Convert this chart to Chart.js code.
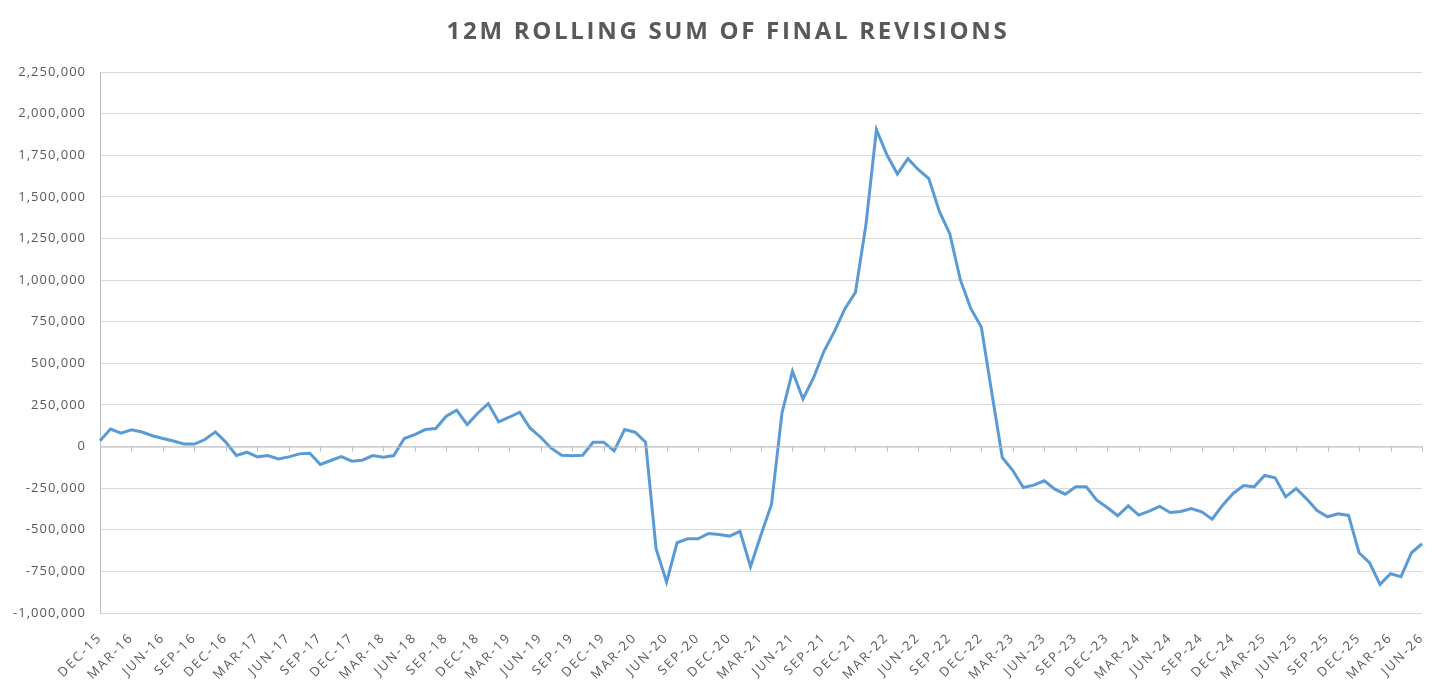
<!DOCTYPE html>
<html>
<head>
<meta charset="utf-8">
<script src="https://cdn.jsdelivr.net/npm/chart.js@4/dist/chart.umd.min.js"></script>
<style>
  html, body { margin: 0; padding: 0; background: #fff; }
  #wrap { position: relative; width: 1456px; height: 692px; }
  #title {
    position: absolute; left: 0; right: 0; top: 13px;
    text-align: center; font: bold 24px "Open Sans", sans-serif;
    letter-spacing: 2.7px; color: #595959;
  }
</style>
</head>
<body>
<div id="wrap">
  <div id="title">12M ROLLING SUM OF FINAL REVISIONS</div>
  <canvas id="line" width="1456" height="692"></canvas>
</div>
<script>
const months = [
  'DEC-15',
  'JAN-16', 'FEB-16', 'MAR-16', 'APR-16', 'MAY-16', 'JUN-16', 'JUL-16', 'AUG-16', 'SEP-16', 'OCT-16', 'NOV-16', 'DEC-16',
  'JAN-17', 'FEB-17', 'MAR-17', 'APR-17', 'MAY-17', 'JUN-17', 'JUL-17', 'AUG-17', 'SEP-17', 'OCT-17', 'NOV-17', 'DEC-17',
  'JAN-18', 'FEB-18', 'MAR-18', 'APR-18', 'MAY-18', 'JUN-18', 'JUL-18', 'AUG-18', 'SEP-18', 'OCT-18', 'NOV-18', 'DEC-18',
  'JAN-19', 'FEB-19', 'MAR-19', 'APR-19', 'MAY-19', 'JUN-19', 'JUL-19', 'AUG-19', 'SEP-19', 'OCT-19', 'NOV-19', 'DEC-19',
  'JAN-20', 'FEB-20', 'MAR-20', 'APR-20', 'MAY-20', 'JUN-20', 'JUL-20', 'AUG-20', 'SEP-20', 'OCT-20', 'NOV-20', 'DEC-20',
  'JAN-21', 'FEB-21', 'MAR-21', 'APR-21', 'MAY-21', 'JUN-21', 'JUL-21', 'AUG-21', 'SEP-21', 'OCT-21', 'NOV-21', 'DEC-21',
  'JAN-22', 'FEB-22', 'MAR-22', 'APR-22', 'MAY-22', 'JUN-22', 'JUL-22', 'AUG-22', 'SEP-22', 'OCT-22', 'NOV-22', 'DEC-22',
  'JAN-23', 'FEB-23', 'MAR-23', 'APR-23', 'MAY-23', 'JUN-23', 'JUL-23', 'AUG-23', 'SEP-23', 'OCT-23', 'NOV-23', 'DEC-23',
  'JAN-24', 'FEB-24', 'MAR-24', 'APR-24', 'MAY-24', 'JUN-24', 'JUL-24', 'AUG-24', 'SEP-24', 'OCT-24', 'NOV-24', 'DEC-24',
  'JAN-25', 'FEB-25', 'MAR-25', 'APR-25', 'MAY-25', 'JUN-25', 'JUL-25', 'AUG-25', 'SEP-25', 'OCT-25', 'NOV-25', 'DEC-25',
  'JAN-26', 'FEB-26', 'MAR-26', 'APR-26', 'MAY-26', 'JUN-26'
];

// 12m rolling sum (one value per month)
const rollingSum = [
  35000,
  105000, 80000, 100000, 87000, 65000, 48000, 33000, 15000, 15000, 42000, 88000, 26000,
  -54000, -34000, -62000, -54000, -74000, -62000, -44000, -40000, -108000, -84000, -60000, -88000,
  -82000, -54000, -64000, -54000, 48000, 72000, 102000, 108000, 182000, 218000, 132000, 200000,
  258000, 148000, 176000, 206000, 110000, 56000, -10000, -52000, -56000, -52000, 26000, 26000,
  -26000, 102000, 86000, 26000, -614000, -814000, -578000, -554000, -554000, -522000, -528000, -538000,
  -510000, -722000, -530000, -348000, 202000, 452000, 286000, 412000, 572000, 692000, 828000, 926000,
  1332000, 1903000, 1753000, 1637000, 1729000, 1663000, 1609000, 1412000, 1277000, 1002000, 828000, 718000,
  322000, -66000, -144000, -246000, -232000, -206000, -256000, -286000, -242000, -242000, -322000, -366000,
  -416000, -356000, -412000, -388000, -360000, -396000, -390000, -372000, -392000, -436000, -352000, -282000,
  -234000, -242000, -174000, -188000, -302000, -252000, -314000, -384000, -422000, -404000, -414000, -638000,
  -698000, -828000, -764000, -782000, -638000, -584000
];

const yMin = -1000000;
const yMax = 2250000;
const yStep = 250000;

const grey = '#595959';

// small tick marks hanging under the zero line, like the excel axis
// x labels sit in a later layer (ticks.z = 1) so they get wider letter spacing
const zeroTicks = {
  id: 'zeroTicks',
  beforeDraw(chart) {
    chart.ctx.letterSpacing = '1px';
  },
  afterDatasetsDraw(chart) {
    const ctx = chart.ctx;
    const x = chart.scales.x;
    const y0 = chart.scales.y.getPixelForValue(0);
    ctx.save();
    ctx.strokeStyle = '#bfbfbf';
    ctx.lineWidth = 1;
    ctx.beginPath();
    ctx.moveTo(x.left, y0 + 0.5);
    ctx.lineTo(x.right, y0 + 0.5);
    for (let i = 0; i < months.length; i += 3) {
      const px = Math.round(x.getPixelForValue(i)) + 0.5;
      ctx.moveTo(px, y0);
      ctx.lineTo(px, y0 + 5);
    }
    ctx.stroke();
    ctx.restore();
    ctx.letterSpacing = '2px';
  },
  afterDraw(chart) {
    chart.ctx.letterSpacing = '0px';
  }
};

const lineConfig = {
  type: 'line',
  data: {
    labels: months,
    datasets: [{
      label: '12M rolling sum',
      data: rollingSum,
      borderColor: '#5B9BD5',
      borderWidth: 3,
      pointRadius: 0,
      tension: 0,
      fill: false
    }]
  },
  options: {
    responsive: false,
    animation: false,
    layout: { padding: { left: 0, right: 34, top: 72, bottom: 0 } },
    plugins: {
      legend: { display: false },
      title: { display: false },
      tooltip: { enabled: false }
    },
    scales: {
      x: {
        grid: { display: false },
        border: { display: false },
        afterFit(scale) { scale.height = 79; },
        ticks: {
          z: 1,
          autoSkip: false,
          minRotation: 45,
          maxRotation: 45,
          padding: 9,
          color: grey,
          font: { family: 'Open Sans', size: 13 },
          callback(v, i) { return i % 3 === 0 ? months[i] : ''; }
        }
      },
      y: {
        min: yMin,
        max: yMax,
        afterFit(scale) { scale.width = 100; },
        grid: { color: '#d9d9d9', drawTicks: false },
        border: { display: true, color: '#bfbfbf' },
        ticks: {
          stepSize: yStep,
          padding: 14,
          color: grey,
          font: { family: 'Open Sans', size: 13 },
          callback(v) { return v.toLocaleString('en-US'); }
        }
      }
    }
  },
  plugins: [zeroTicks]
};

window.onload = function() {
  new Chart(document.getElementById('line'), lineConfig);
};
</script>
</body>
</html>
